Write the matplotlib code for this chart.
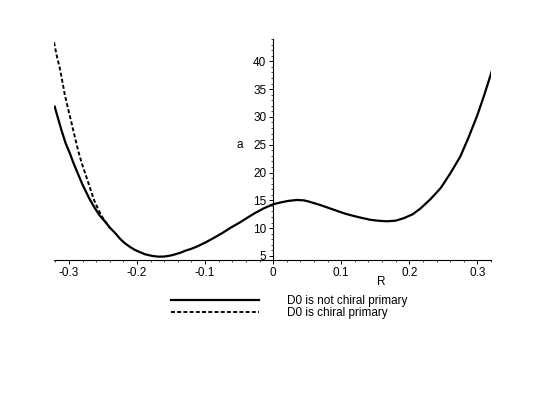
import matplotlib
matplotlib.use('Agg')
from matplotlib import pyplot as plt
from matplotlib.ticker import MultipleLocator

# values
R_solid = [-0.321, -0.316, -0.311, -0.305, -0.2985, -0.294, -0.289, -0.280, -0.270,
           -0.262, -0.255, -0.247, -0.240, -0.232, -0.225, -0.218, -0.210, -0.203,
           -0.195, -0.188, -0.178, -0.169, -0.160, -0.150, -0.144, -0.136, -0.129,
           -0.120, -0.112, -0.100, -0.088, -0.075, -0.063, -0.050, -0.039, -0.027,
           -0.014, 0.0, 0.010, 0.022, 0.035, 0.045, 0.052, 0.060, 0.069, 0.080,
           0.094, 0.106, 0.118, 0.130, 0.143, 0.155, 0.167, 0.180, 0.192, 0.205,
           0.216, 0.231, 0.246, 0.2605, 0.275, 0.287, 0.2996, 0.310, 0.321]
a_solid = [31.85, 29.7, 27.6, 25.3, 23.4, 21.9, 20.4, 17.8, 15.3,
           13.6, 12.3, 11.2, 10.1, 9.1, 8.1, 7.3, 6.6, 6.08,
           5.65, 5.3, 5.02, 4.88, 4.9, 5.1, 5.3, 5.6, 5.95,
           6.3, 6.7, 7.4, 8.2, 9.1, 10.05, 10.95, 11.8, 12.7,
           13.55, 14.3, 14.6, 14.9, 15.07, 15.0, 14.8, 14.5, 14.17, 13.7,
           13.1, 12.6, 12.2, 11.85, 11.5, 11.33, 11.24, 11.35, 11.8, 12.5,
           13.5, 15.2, 17.2, 19.9, 22.9, 26.3, 30.2, 33.9, 38.15]

R_dash = [-0.322, -0.318, -0.313, -0.306, -0.300, -0.296, -0.291, -0.286, -0.281,
          -0.2755, -0.269, -0.263, -0.259, -0.255, -0.251, -0.247, -0.240]
a_dash = [43.4, 41.0, 38.5, 33.9, 30.8, 28.8, 26.2, 23.7, 21.6,
          19.6, 17.2, 15.0, 13.9, 12.9, 12.0, 11.2, 10.1]

labels = ['D0 is not chiral primary', 'D0 is chiral primary']

plt.rcParams['font.family'] = ['Liberation Sans', 'DejaVu Sans']
fig = plt.figure(figsize=(5.45, 3.94), dpi=100)
W, H = 545, 394
ax = fig.add_axes([54 / W, 1 - 260 / H, (491 - 54) / W, (260 - 39) / H])

l1, = ax.plot(R_solid, a_solid, 'k-', lw=1.6, solid_joinstyle='round')
l2, = ax.plot(R_dash, a_dash, color='k', lw=1.4, linestyle=(0, (2, 1.2)))

ax.set_xlim(-0.322, 0.32)
ax.set_ylim(4.28, 44.0)

ax.spines['top'].set_visible(False)
ax.spines['right'].set_visible(False)
ax.spines['left'].set_position(('data', 0))
ax.spines['left'].set_linewidth(0.8)
ax.spines['bottom'].set_linewidth(0.8)

ax.xaxis.set_minor_locator(MultipleLocator(0.02))
ax.yaxis.set_minor_locator(MultipleLocator(1))
ax.set_yticks([5, 10, 15, 20, 25, 30, 35, 40])
ax.set_xticks([-0.3, -0.2, -0.1, 0, 0.1, 0.2, 0.3])
ax.set_xticklabels(['-0.3', '-0.2', '-0.1', '0', '0.1', '0.2', '0.3'])
ax.tick_params(which='major', length=3, width=0.7, labelsize=8.5, colors='k', pad=2)
ax.tick_params(which='minor', length=1.5, width=0.5)

ax.text(-0.049, 25.0, 'a', fontsize=8.5, ha='center', va='center')
ax.text(0.159, 0.4, 'R', fontsize=8.5, ha='center', va='center', clip_on=False)

fig.legend([l1, l2], labels, loc='upper left',
           bbox_to_anchor=(171 / W, 1 - 295 / H), frameon=False,
           fontsize=8.5, handlelength=7.45, handletextpad=2.4,
           labelspacing=0.0, borderpad=0, borderaxespad=0)

fig.savefig('out.png', dpi=100)
